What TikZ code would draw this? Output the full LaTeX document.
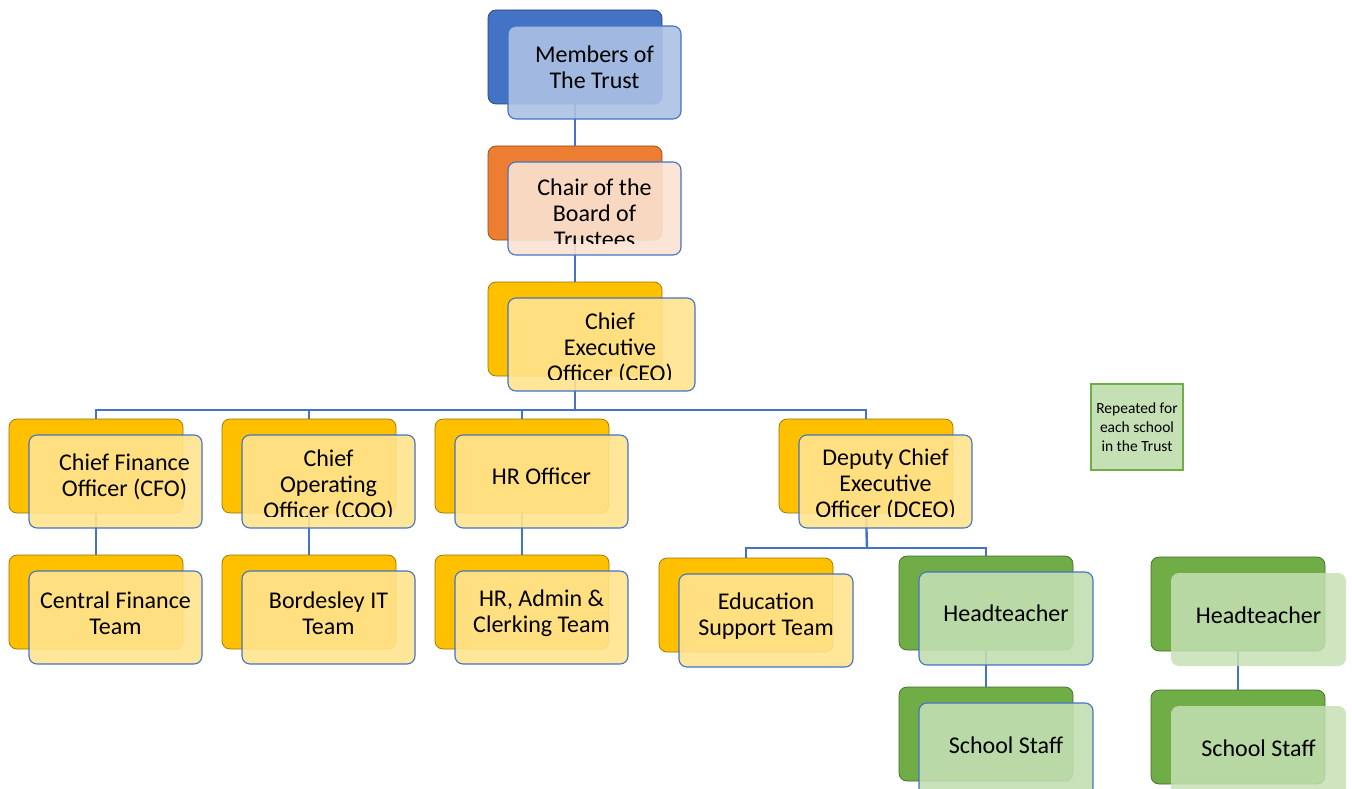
\documentclass[tikz,border=0pt]{standalone}
\usepackage{fontspec}
\setmainfont{Carlito}

\pgfdeclarelayer{backl}
\pgfdeclarelayer{linel}
\pgfsetlayers{backl,linel,main}

\definecolor{accblue}{HTML}{4472C4}
\definecolor{accorange}{HTML}{ED7D31}
\definecolor{accgold}{HTML}{FFC000}
\definecolor{accgreen}{HTML}{70AD47}
\definecolor{tintblue}{HTML}{ACC1E4}
\definecolor{tintorange}{HTML}{FAE2D1}
\definecolor{tintgold}{HTML}{FFE38E}
\definecolor{tintgreen}{HTML}{C2DEB1}
\definecolor{notegreen}{HTML}{C5E0B4}

\tikzset{
  backbox/.style={rectangle, rounded corners=8pt, minimum width=174pt,
    minimum height=94pt, inner sep=0pt, draw=#1!60!black, line width=0.7pt, fill=#1},
  frontbox/.style={rectangle, rounded corners=8pt, minimum height=93pt,
    inner sep=0pt, draw=accblue, line width=1.1pt, fill=#1, fill opacity=0.9},
  frontblue/.style={frontbox=tintblue},
  frontorange/.style={frontbox=tintorange},
  frontgold/.style={frontbox=tintgold},
  frontgreen/.style={frontbox=tintgreen},
  frontpale/.style={rectangle, rounded corners=8pt, minimum height=93pt,
    inner sep=0pt, fill=notegreen, fill opacity=0.85},
  unittext/.style={align=center, inner sep=0pt,
    font=\fontsize{24}{26}\selectfont},
  conn/.style={draw=accblue, line width=2.4pt},
  notebox/.style={rectangle, draw=accgreen, line width=2pt, fill=notegreen,
    minimum width=92pt, minimum height=86pt, inner sep=0pt, align=center,
    font=\fontsize{15.5}{19}\selectfont}
}

% #1 name, #2 back colour, #3 front style, #4/#5 back top-left,
% #6 front width, #7/#8 text offset, #9 text
\newcommand{\orgunit}[9]{%
  \begin{pgfonlayer}{backl}
    \node[backbox=#2] (#1) at ({#4+87},{#5+47}) {};
  \end{pgfonlayer}
  \node[#3, minimum width=#6pt] (#1-f) at ({#4+20+#6/2},{#5+62.5}) {};
  \begin{scope}
    \clip ({#4+20},{#5+16}) rectangle ({#4+20+#6},{#5+97});
    \node[unittext] (#1-t) at ({#4+20+#6/2+#7},{#5+16+#8}) {#9};
  \end{scope}
}

\begin{document}
\begin{tikzpicture}[x=1pt,y=-1pt]
\useasboundingbox (0,0) rectangle (1352,789);

% trust leadership
\orgunit{members}{accblue}{frontblue}{488}{10}{173}{0}{41}{Members of\\The Trust}
\orgunit{chair}{accorange}{frontorange}{488}{146}{173}{0}{51}{Chair of the\\Board of\\Trustees}
\orgunit{ceo}{accgold}{frontgold}{488}{282}{187}{8.5}{51}{Chief\\Executive\\Officer (CEO)}

% central officers
\orgunit{cfo}{accgold}{frontgold}{9}{419}{173}{9}{42}{Chief Finance\\Officer (CFO)}
\orgunit{coo}{accgold}{frontgold}{222}{419}{173}{0}{51}{Chief\\Operating\\Officer (COO)}
\orgunit{hro}{accgold}{frontgold}{435}{419}{173}{0}{41}{HR Officer}
\orgunit{dceo}{accgold}{frontgold}{779}{419}{173}{0}{50}{Deputy Chief\\Executive\\Officer (DCEO)}

% central teams
\orgunit{cft}{accgold}{frontgold}{9}{555}{173}{0}{42}{Central Finance\\Team}
\orgunit{bit}{accgold}{frontgold}{222}{555}{173}{0}{42}{Bordesley IT\\Team}
\orgunit{hra}{accgold}{frontgold}{435}{555}{173}{0}{42}{HR, Admin \&\\Clerking Team}
\orgunit{est}{accgold}{frontgold}{659}{558}{174}{0}{42}{Education\\Support Team}

% schools
\orgunit{htone}{accgreen}{frontgreen}{899}{556}{174}{0}{41}{Headteacher}
\orgunit{ssone}{accgreen}{frontgreen}{899}{687}{174}{0}{42}{School Staff}
\orgunit{httwo}{accgreen}{frontpale}{1151}{557}{175}{0}{42}{Headteacher}
\orgunit{sstwo}{accgreen}{frontpale}{1151}{690}{175}{0}{42}{School Staff}

\node[notebox] (note) at (1137,427) {Repeated for\\each school\\in the Trust};

% reporting lines
\coordinate (busA) at (575,410);
\coordinate (busB) at (867,548);
\begin{pgfonlayer}{linel}
  \draw[conn] (members.south) -- (chair.north);
  \draw[conn] (chair.south) -- (ceo.north);
  \draw[conn] (ceo.south) -- (busA);
  \draw[conn] (busA) -| (cfo.north);
  \draw[conn] (busA) -| (coo.north);
  \draw[conn] (busA) -| (hro.north);
  \draw[conn] (busA) -| (dceo.north);
  \draw[conn] (cfo.south) -- (cft.north);
  \draw[conn] (coo.south) -- (bit.north);
  \draw[conn] (hro.south) -- (hra.north);
  \draw[conn] (dceo.south) -- (busB);
  \draw[conn] (busB) -| (est.north);
  \draw[conn] (busB) -| (htone.north);
  \draw[conn] (htone.south) -- (ssone.north);
  \draw[conn] (httwo.south) -- (sstwo.north);
\end{pgfonlayer}
\end{tikzpicture}
\end{document}
